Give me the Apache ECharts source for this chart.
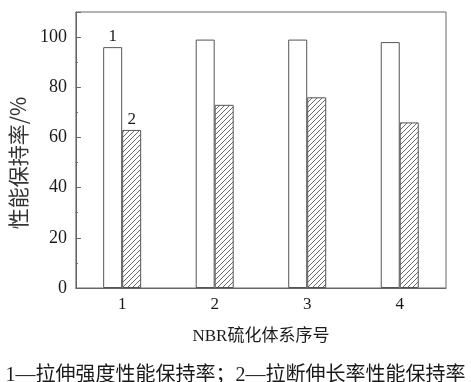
<!DOCTYPE html>
<html><head><meta charset="utf-8">
<script src="https://cdn.jsdelivr.net/npm/echarts@6/dist/echarts.min.js"></script>
<style>html,body{margin:0;padding:0;background:#fff}#c{width:471px;height:382px}</style>
</head><body><div id="c"></div>
<script>
const categories = ['1', '2', '3', '4'];
const tensileRetention = [96, 99, 99, 98];
const elongationRetention = [63, 73, 76, 66];
const seriesLabels = ['1', '2'];
const yTicks = [0, 20, 40, 60, 80, 100];
const xName = 'NBR硫化体系序号';
const yName = '性能保持率/%';
const captionText = '1—拉伸强度性能保持率；2—拉断伸长率性能保持率';

function hatch() {
  const s = 5;
  const c = document.createElement('canvas');
  c.width = s; c.height = s;
  const g = c.getContext('2d');
  g.fillStyle = '#fff'; g.fillRect(0, 0, s, s);
  g.strokeStyle = '#6a6a6a'; g.lineWidth = 1;
  g.beginPath();
  g.moveTo(-1, s + 1); g.lineTo(s + 1, -1);
  g.moveTo(-1, 1); g.lineTo(1, -1);
  g.moveTo(s - 1, s + 1); g.lineTo(s + 1, s - 1);
  g.stroke();
  return c;
}

const serifFont = "'Liberation Serif','Noto Sans CJK SC',serif";
const lineCol = '#666';
const textCol = '#1a1a1a';

const chart = echarts.init(document.getElementById('c'), null, {renderer: 'canvas'});
chart.setOption({
  animation: false,
  backgroundColor: '#fff',
  title: {
    text: captionText, left: 'center', top: 361,
    textStyle: {fontFamily: serifFont, fontSize: 20, fontWeight: 'normal', color: textCol}
  },
  grid: {left: 72, right: 25, top: 12, bottom: 94, show: true, borderColor: lineCol, borderWidth: 1, backgroundColor: 'transparent'},
  xAxis: {
    type: 'category', data: categories,
    name: xName, nameLocation: 'middle', nameGap: 40,
    nameTextStyle: {fontFamily: serifFont, fontSize: 17, color: textCol},
    axisLine: {lineStyle: {color: lineCol}},
    axisTick: {inside: true, length: 3, lineStyle: {color: lineCol}},
    axisLabel: {fontFamily: serifFont, fontSize: 17, color: textCol, margin: 8}
  },
  yAxis: [{
    type: 'value', min: 0, max: 110, interval: 10, position: 'left',
    name: yName, nameLocation: 'middle', nameGap: 46, nameRotate: 90,
    nameTextStyle: {fontFamily: "'Noto Sans CJK SC',sans-serif", fontSize: 21, color: '#333', padding: [0, 26, 0, 0]},
    axisLine: {show: true, lineStyle: {color: lineCol}},
    axisTick: {show: true, inside: true, length: 2, lineStyle: {color: lineCol}},
    splitLine: {show: false},
    axisLabel: {
      fontFamily: serifFont, fontSize: 18, color: textCol, margin: 9,
      formatter: v => (yTicks.indexOf(v) >= 0 ? String(v) : '')
    }
  }, {
    type: 'value', min: 0, max: 110, interval: 20, position: 'left',
    axisLine: {show: false},
    axisTick: {show: true, inside: true, length: 5, lineStyle: {color: lineCol}},
    splitLine: {show: false},
    axisLabel: {show: false}
  }],
  series: [{
    type: 'bar', data: tensileRetention.map((v, i) => i === 0 ? {value: v, label: {show: true}} : v),
    barWidth: 19, barGap: '0%',
    itemStyle: {color: '#fff', borderColor: '#555', borderWidth: 1},
    label: {show: false, position: 'top', distance: 2, formatter: seriesLabels[0], fontFamily: serifFont, fontSize: 17, color: textCol}
  }, {
    type: 'bar', data: elongationRetention.map((v, i) => i === 0 ? {value: v, label: {show: true}} : v),
    barWidth: 19, barGap: '0%',
    itemStyle: {color: {image: hatch(), repeat: 'repeat'}, borderColor: '#555', borderWidth: 1},
    label: {show: false, position: 'top', distance: 2, formatter: seriesLabels[1], fontFamily: serifFont, fontSize: 17, color: textCol}
  }]
});
</script></body></html>
